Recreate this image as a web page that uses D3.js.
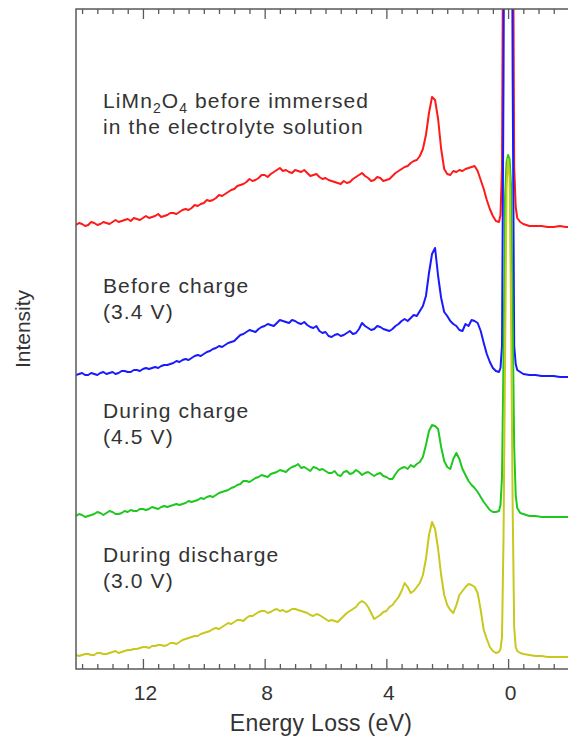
<!DOCTYPE html>
<html>
<head>
<meta charset="utf-8">
<script src="https://cdn.jsdelivr.net/npm/d3@7"></script>
<style>
  html, body { margin: 0; padding: 0; background: #fff; }
  svg { display: block; font-family: "Liberation Sans", Arial, sans-serif; }
</style>
</head>
<body>
<svg id="chart" width="568" height="738"></svg>
<script>
// Energy loss grid (eV)
const energy = [
  14.2, 14.1, 14.0, 13.9, 13.8, 13.7, 13.6, 13.5, 13.4, 13.3,
  13.2, 13.1, 13.0, 12.9, 12.8, 12.7, 12.6, 12.5, 12.4, 12.3,
  12.2, 12.1, 12.0, 11.9, 11.8, 11.7, 11.6, 11.5, 11.4, 11.3,
  11.2, 11.1, 11.0, 10.9, 10.8, 10.7, 10.6, 10.5, 10.4, 10.3,
  10.2, 10.1, 10.0, 9.9, 9.8, 9.7, 9.6, 9.5, 9.4, 9.3,
  9.2, 9.1, 9.0, 8.9, 8.8, 8.7, 8.6, 8.5, 8.4, 8.3,
  8.2, 8.1, 8.0, 7.9, 7.8, 7.7, 7.6, 7.5, 7.4, 7.3,
  7.2, 7.1, 7.0, 6.9, 6.8, 6.7, 6.6, 6.5, 6.4, 6.3,
  6.2, 6.1, 6.0, 5.9, 5.8, 5.7, 5.6, 5.5, 5.4, 5.3,
  5.2, 5.1, 5.0, 4.9, 4.8, 4.7, 4.6, 4.5, 4.4, 4.3,
  4.2, 4.1, 4.0, 3.9, 3.8, 3.7, 3.6, 3.5, 3.4,
  3.3, 3.2, 3.1, 3.0, 2.9, 2.8, 2.7, 2.6, 2.5, 2.4, 2.3, 2.2, 2.1, 2.0, 1.9, 1.8, 1.7, 1.6, 1.5, 1.4,
  1.3, 1.2, 1.1, 1.0, 0.9, 0.8, 0.7, 0.6, 0.5,
  0.4, 0.3, 0.25, 0.2, 0.15, 0.1, 0.05, 0, -0.05, -0.1, -0.15, -0.2, -0.25, -0.3, -0.4, -0.5,
  -0.7, -0.9, -1.1, -1.3, -1.5, -1.7, -1.9, -2.1
];

// LiMn2O4 before immersed in the electrolyte solution
const seriesPristine = [
  2, 4, 3, 1, 2, 5, 4, 2, 3, 5,
  4, 3, 5, 7, 5, 6, 7, 8, 6, 9,
  8, 7, 9, 11, 9, 10, 11, 13, 10, 11,
  12, 14, 14, 13, 15, 17, 18, 17, 19, 22,
  21, 23, 24, 27, 26, 27, 29, 32, 31, 33,
  35, 37, 38, 41, 42, 43, 45, 48, 46, 47,
  49, 52, 52, 50, 53, 55, 57, 59, 56, 57,
  55, 54, 57, 56, 55, 57, 54, 51, 52, 53,
  50, 48, 49, 47, 46, 45, 44, 43, 46, 44,
  45, 48, 50, 52, 54, 51, 49, 46, 47, 50,
  49, 46, 47, 48, 51, 54, 56, 58, 60,
  61, 64, 66, 67, 71, 78, 92, 114, 130, 127, 108, 78, 58, 53, 52, 56, 55, 57, 56, 58,
  59, 60, 61, 56, 47, 38, 27, 18, 11,
  6, 5, 12, 60, 400, 700, 800, 800, 800, 700, 400, 60, 20, 9, 5, 3,
  1, 1, 1, 0, 0, 1, 0, 0
];

// Before charge (3.4 V)
const seriesBeforeCharge = [
  1, 2, 3, 1, 1, 3, 2, 1, 3, 4,
  2, 3, 4, 2, 3, 5, 5, 4, 4, 6,
  6, 5, 7, 8, 7, 8, 9, 8, 10, 11,
  11, 12, 13, 15, 14, 16, 17, 16, 18, 20,
  21, 20, 22, 24, 25, 27, 28, 30, 29, 31,
  33, 34, 35, 38, 41, 42, 44, 46, 45, 44,
  47, 49, 50, 52, 51, 50, 53, 56, 55, 54,
  53, 56, 55, 53, 52, 54, 51, 49, 48, 50,
  45, 43, 44, 40, 39, 41, 42, 40, 41, 43,
  45, 42, 43, 47, 53, 50, 48, 46, 47, 50,
  49, 47, 46, 45, 47, 50, 52, 55, 57,
  55, 58, 61, 60, 65, 70, 80, 103, 122, 128, 100, 78, 64, 60, 55, 52, 50, 46, 45, 52,
  50, 56, 55, 53, 45, 33, 22, 14, 8,
  5, 4, 8, 30, 300, 700, 850, 900, 850, 700, 300, 30, 12, 6, 4, 2,
  1, 1, 0, 0, 0, -1, -1, -1
];

// During charge (4.5 V)
const seriesCharge = [
  1, 3, 2, 0, 1, 2, 3, 5, 4, 2,
  4, 6, 5, 3, 3, 4, 6, 5, 7, 6,
  6, 8, 8, 7, 8, 10, 9, 8, 10, 11,
  10, 11, 12, 13, 12, 13, 14, 16, 15, 16,
  17, 19, 18, 20, 21, 20, 22, 24, 25, 26,
  27, 29, 30, 32, 33, 36, 36, 35, 37, 39,
  40, 42, 41, 40, 43, 44, 45, 47, 46, 45,
  48, 50, 51, 53, 49, 50, 48, 46, 50, 49,
  47, 48, 46, 44, 44, 46, 42, 41, 45, 46,
  43, 44, 47, 45, 42, 44, 45, 43, 41, 43,
  44, 41, 40, 38, 38, 43, 47, 49, 50,
  48, 52, 50, 53, 55, 60, 72, 86, 92, 91, 88, 70, 56, 50, 48, 58, 64, 58, 48, 42,
  36, 32, 29, 25, 20, 15, 11, 7, 5,
  5, 6, 12, 40, 160, 320, 355, 362, 358, 330, 200, 70, 22, 9, 4, 3,
  1, 1, 0, 0, 0, 0, 0, 0
];

// During discharge (3.0 V)
const seriesDischarge = [
  2, 1, 2, 3, 3, 2, 2, 4, 4, 3,
  3, 4, 5, 6, 4, 5, 6, 7, 7, 8,
  8, 9, 10, 10, 9, 11, 11, 12, 12, 11,
  12, 14, 14, 13, 15, 17, 18, 19, 20, 21,
  21, 23, 24, 25, 26, 28, 29, 28, 30, 32,
  34, 33, 35, 37, 37, 36, 39, 41, 41, 43,
  45, 46, 46, 44, 45, 47, 48, 46, 47, 45,
  46, 48, 48, 47, 46, 45, 44, 42, 41, 43,
  42, 40, 38, 36, 37, 36, 35, 38, 41, 44,
  46, 48, 50, 54, 56, 54, 50, 44, 38, 40,
  42, 45, 46, 50, 52, 56, 60, 66, 74,
  70, 64, 66, 70, 74, 82, 98, 122, 135, 128, 108, 82, 62, 52, 47, 44, 52, 62, 66, 70,
  73, 72, 70, 64, 47, 27, 18, 10, 6,
  4, 5, 8, 20, 120, 300, 470, 498, 480, 330, 150, 30, 10, 6, 4, 3,
  2, 1, 1, 0, 0, 0, 0, 0
];

const seriesValues = [seriesPristine, seriesBeforeCharge, seriesCharge, seriesDischarge];
const seriesOffsets = [442, 293, 152, 12];
const seriesColors = ["#ff1a1a", "#1a1aff", "#1ec81e", "#c8c81e"];

const labelLines = [
  ["LiMn2O4 before immersed", "in the electrolyte solution"],
  ["Before charge", "(3.4 V)"],
  ["During charge", "(4.5 V)"],
  ["During discharge", "(3.0 V)"]
];
const labelIntensity = [561, 376, 251, 107]; // label baseline positions in intensity units

const majorTicks = [12, 8, 4, 0];
const xTitle = "Energy Loss (eV)";
const yTitle = "Intensity";

// ---- layout ----
const svg = d3.select("#chart");
const mLeft = 76, mTop = 9, mBottom = 669, mRight = 572;
const x = d3.scaleLinear().domain([14.2, -2.1]).range([mLeft, mRight]);
const y = d3.scaleLinear().domain([0, 660]).range([mBottom, mTop]);

svg.append("defs").append("clipPath").attr("id", "plotclip")
  .append("rect").attr("x", mLeft).attr("y", mTop).attr("width", mRight - mLeft).attr("height", mBottom - mTop);

const lineGen = d3.line().x(d => x(d[0])).y(d => y(d[1]));
const plotG = svg.append("g").attr("clip-path", "url(#plotclip)");
seriesValues.forEach((vals, i) => {
  const pts = energy.map((e, k) => [e, vals[k] + seriesOffsets[i]]);
  plotG.append("path").datum(pts)
    .attr("d", lineGen)
    .attr("fill", "none")
    .attr("stroke", seriesColors[i])
    .attr("stroke-width", 2)
    .attr("stroke-linejoin", "round");
});

// frame
svg.append("rect").attr("x", mLeft).attr("y", mTop).attr("width", mRight - mLeft).attr("height", mBottom - mTop)
  .attr("fill", "none").attr("stroke", "#5a5a5a").attr("stroke-width", 1.5);

const minorTicks = d3.range(-2, 14.01, 0.5).filter(v => !majorTicks.includes(v));

function styleAxis(sel) {
  sel.select(".domain").remove();
  sel.selectAll(".tick line").attr("stroke", "#5a5a5a").attr("stroke-width", 1.3);
}

svg.append("g").attr("transform", `translate(0,${mBottom})`)
  .call(d3.axisBottom(x).tickValues(minorTicks).tickSize(-5).tickFormat(""))
  .call(styleAxis);
const bAxis = svg.append("g").attr("transform", `translate(0,${mBottom})`)
  .call(d3.axisBottom(x).tickValues(majorTicks).tickSize(-10).tickPadding(16).tickFormat(d3.format("d")))
  .call(styleAxis);
bAxis.selectAll(".tick text").attr("font-size", 21).attr("fill", "#333").attr("dx", 2)
  .attr("font-family", "'Liberation Sans', Arial, sans-serif");

svg.append("g").attr("transform", `translate(0,${mTop})`)
  .call(d3.axisTop(x).tickValues(minorTicks).tickSize(-5).tickFormat(""))
  .call(styleAxis);
svg.append("g").attr("transform", `translate(0,${mTop})`)
  .call(d3.axisTop(x).tickValues(majorTicks).tickSize(-10).tickFormat(""))
  .call(styleAxis);

// titles
svg.append("text").attr("x", 321).attr("y", 731)
  .attr("text-anchor", "middle").attr("font-size", 23).attr("letter-spacing", 0.3)
  .attr("fill", "#333").text(xTitle);
svg.append("text").attr("transform", "translate(30,329) rotate(-90)")
  .attr("text-anchor", "middle").attr("font-size", 21).attr("fill", "#333").text(yTitle);

// annotations
const lineGap = 26;
labelLines.forEach((lines, i) => {
  const t = svg.append("text").attr("x", 103).attr("y", y(labelIntensity[i]))
    .attr("font-size", 21).attr("letter-spacing", 1.1).attr("fill", "#333");
  lines.forEach((ln, j) => {
    const dy = j === 0 ? 0 : lineGap;
    if (ln.startsWith("LiMn2O4")) {
      const row = t.append("tspan").attr("x", 103).attr("dy", dy);
      row.append("tspan").text("LiMn");
      row.append("tspan").attr("font-size", 14).attr("dy", 5).text("2");
      row.append("tspan").attr("dy", -5).text("O");
      row.append("tspan").attr("font-size", 14).attr("dy", 5).text("4");
      row.append("tspan").attr("dy", -5).text(ln.slice(7));
    } else {
      t.append("tspan").attr("x", 103).attr("dy", dy).text(ln);
    }
  });
});
</script>
</body>
</html>
